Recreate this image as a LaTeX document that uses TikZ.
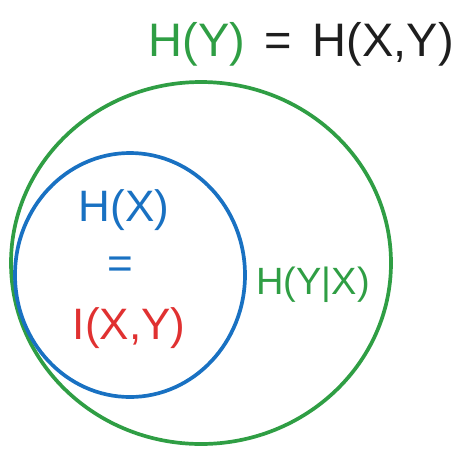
\documentclass[tikz,border=0pt]{standalone}
\usepackage{fontspec}
\setmainfont{Liberation Sans}
\definecolor{exgreen}{HTML}{2F9E44}
\definecolor{exblue}{HTML}{1971C2}
\definecolor{exred}{HTML}{E03131}
\definecolor{exblack}{HTML}{1E1E1E}
\begin{document}
\begin{tikzpicture}[x=1pt,y=-1pt,line width=3.7pt,
	big/.style={font=\fontsize{44}{50}\selectfont,inner sep=0pt},
	top/.style={font=\fontsize{47}{52}\selectfont,inner sep=0pt},
	small/.style={font=\fontsize{38}{44}\selectfont,inner sep=0pt}]
			\useasboundingbox (0,0) rectangle (466,456);
			\draw[exgreen] (201,263) ellipse (190 and 181);
			\draw[exblue] (130,275) ellipse (115 and 122);
			\node[top,text=exgreen,anchor=west] (hy) at (147,44) {H(Y)};
			\node[top,text=exblack,anchor=west] (hxy) at ([xshift=15pt]hy.east) {=\hspace{0.45em}H(X,Y)};
			\node[big,text=exblue] (hx) at (124,210) {H(X)};
			\node[big,text=exblue] (eq) at (120,268) {=};
			\node[big,text=exred] (ixy) at (129,328) {I(X,Y)};
			\node[small,text=exgreen] (hyx) at (313,285) {H(Y|X)};
		\end{tikzpicture}
\end{document}
